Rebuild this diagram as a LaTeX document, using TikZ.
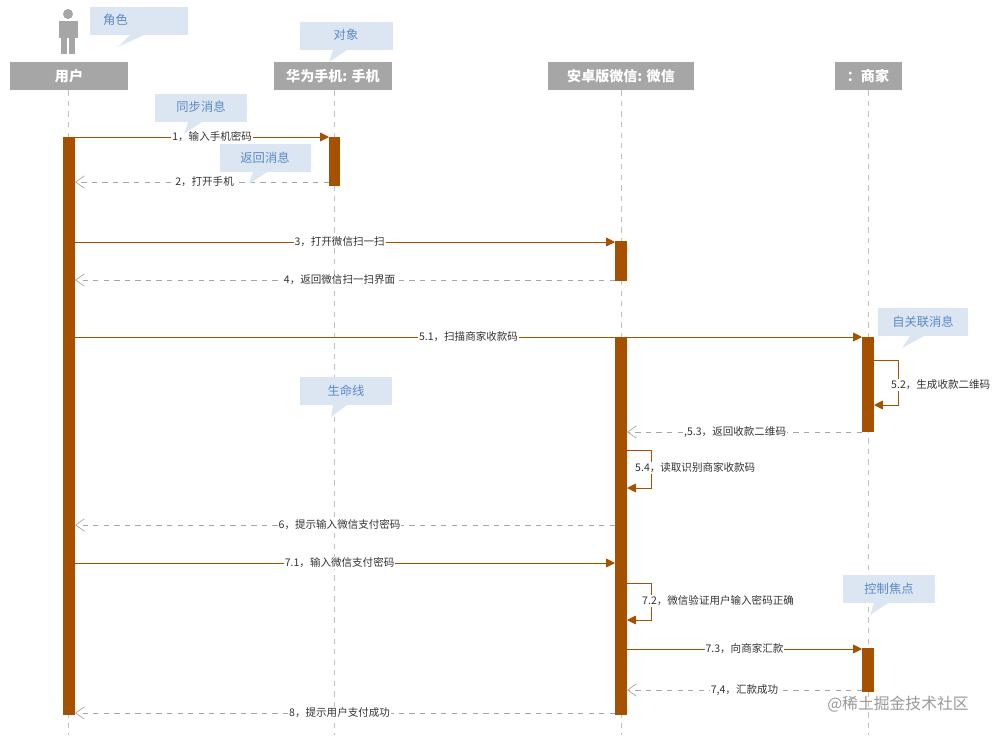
\documentclass[tikz,border=0pt]{standalone}
\usepackage{fontspec}
\setmainfont{Noto Sans CJK SC}
\usetikzlibrary{arrows.meta, positioning}
\definecolor{actbrown}{HTML}{A65100}
\definecolor{headgray}{HTML}{A6A6A6}
\definecolor{tipfill}{HTML}{DCE6F2}
\definecolor{tiptext}{HTML}{5A8AC6}
\tikzset{
  head/.style={fill=headgray, text=white, font=\bfseries\fontsize{8}{9}\selectfont, minimum height=0.56cm, inner sep=0pt},
  life/.style={gray!50, dashed},
  act/.style={fill=actbrown, draw=none},
  sync/.style={actbrown, -{Triangle[length=5pt,width=5pt]}},
  reply/.style={gray!70, dashed, -{Straight Barb[length=5pt,width=7pt]}},
  msg/.style={fill=white, inner sep=0.5pt, text=black!80, font=\fontsize{6}{7}\selectfont},
  tiplbl/.style={text=tiptext, font=\fontsize{7}{8}\selectfont}
}
\begin{document}
\begin{tikzpicture}[x=0.02cm, y=-0.02cm]
  \path[use as bounding box] (0,0) rectangle (1000,735);

  % actor icon
  \fill[headgray] (68,14) circle (5);
  \fill[headgray] (59,21) rectangle (78,38);
  \fill[headgray] (61,38) rectangle (67,54);
  \fill[headgray] (69,38) rectangle (75,54);

  % heads
  \node[head, minimum width=2.36cm] (user) at (69,76) {用户};
  \node[head, minimum width=2.38cm] (phone) at (333,76) {华为手机: 手机};
  \node[head, minimum width=2.92cm] (wechat) at (621,76) {安卓版微信: 微信};
  \node[head, minimum width=1.34cm] (shop) at (868,76) {：商家};

  % lifelines
  \coordinate (uEnd) at (68,735);
  \coordinate (pEnd) at (334,735);
  \coordinate (wEnd) at (621,735);
  \coordinate (sEnd) at (868,735);
  \draw[life] (user.south -| 68,0) -- (uEnd);
  \draw[life] (phone.south -| 334,0) -- (pEnd);
  \draw[life] (wechat.south -| 621,0) -- (wEnd);
  \draw[life] (shop.south -| 868,0) -- (sEnd);

  % activations
  \fill[act] (63,137) rectangle (75,715);
  \fill[act] (329,137) rectangle (340,186);
  \fill[act] (615,241) rectangle (627,281);
  \fill[act] (615,337) rectangle (627,715);
  \fill[act] (862,337) rectangle (874,432);
  \fill[act] (862,648) rectangle (874,692);

  % messages
  \coordinate (m1a) at (75,137);  \coordinate (m1b) at (329,137);
  \coordinate (m2a) at (329,182); \coordinate (m2b) at (75,182);
  \coordinate (m3a) at (75,242);  \coordinate (m3b) at (615,242);
  \coordinate (m4a) at (615,280); \coordinate (m4b) at (75,280);
  \coordinate (m5a) at (75,337);  \coordinate (m5b) at (862,337);
  \coordinate (m53a) at (862,432); \coordinate (m53b) at (627,432);
  \coordinate (m6a) at (615,525); \coordinate (m6b) at (75,525);
  \coordinate (m7a) at (75,563);  \coordinate (m7b) at (615,563);
  \coordinate (m73a) at (627,649); \coordinate (m73b) at (862,649);
  \coordinate (m74a) at (862,690); \coordinate (m74b) at (627,690);
  \coordinate (m8a) at (615,713); \coordinate (m8b) at (75,713);

  \draw[sync] (m1a) -- node[msg, pos=0.54] {1，输入手机密码} (m1b);
  \draw[reply] (m2a) -- node[msg, pos=0.49] {2，打开手机} (m2b);
  \draw[sync] (m3a) -- node[msg, pos=0.49] {3，打开微信扫一扫} (m3b);
  \draw[reply] (m4a) -- node[msg, pos=0.51] {4，返回微信扫一扫界面} (m4b);
  \draw[sync] (m5a) -- node[msg, pos=0.5] {5.1，扫描商家收款码} (m5b);
  \draw[reply] (m53a) -- node[msg, pos=0.54] {,5.3，返回收款二维码} (m53b);
  \draw[reply] (m6a) -- node[msg, pos=0.51] {6，提示输入微信支付密码} (m6b);
  \draw[sync] (m7a) -- node[msg, pos=0.49] {7.1，输入微信支付密码} (m7b);
  \draw[sync] (m73a) -- node[msg, pos=0.5] {7.3，向商家汇款} (m73b);
  \draw[reply] (m74a) -- node[msg, pos=0.5] {7,4，汇款成功} (m74b);
  \draw[reply] (m8a) -- node[msg, pos=0.51] {8，提示用户支付成功} (m8b);

  % self messages
  \draw[sync] (874,360) -- (898,360) -- (898,405) -- (874,405);
  \node[msg, anchor=west] (s52) at (890,385) {5.2，生成收款二维码};
  \draw[sync] (627,450) -- (651,450) -- (651,488) -- (627,488);
  \node[msg, anchor=west] (s54) at (634,468) {5.4，读取识别商家收款码};
  \draw[sync] (627,583) -- (651,583) -- (651,620) -- (627,620);
  \node[msg, anchor=west] (s72) at (641,601) {7.2，微信验证用户输入密码正确};

  % callouts
  \foreach \x/\y/\w/\tx/\dx in {
      90/7/98/132/-14, 300/22/93/335/-6, 155/94/92/190/-6,
      220/144/91/255/-6, 300/377/92/335/-4,
      878/308/90/912/-10, 843/575/92/876/-6} {
    \fill[tipfill] (\x,\y) rectangle ++(\w,28);
    \fill[tipfill] (\tx-2,\y+28) -- (\tx+\dx,\y+40) -- (\tx+12,\y+28) -- cycle;
  }
  \node[tiplbl, anchor=west] (tRole) at (97,20) {角色};
  \node[tiplbl] (tObj) at (346,35) {对象};
  \node[tiplbl] (tSync) at (201,107) {同步消息};
  \node[tiplbl] (tRet) at (265,158) {返回消息};
  \node[tiplbl] (tLife) at (346,391) {生命线};
  \node[tiplbl] (tSelf) at (923,322) {自关联消息};
  \node[tiplbl] (tFocus) at (889,589) {控制焦点};

  % watermark
  \node[text=gray!80, font=\fontsize{9}{10}\selectfont] (mark) at (898,704) {@稀土掘金技术社区};
\end{tikzpicture}
\end{document}
